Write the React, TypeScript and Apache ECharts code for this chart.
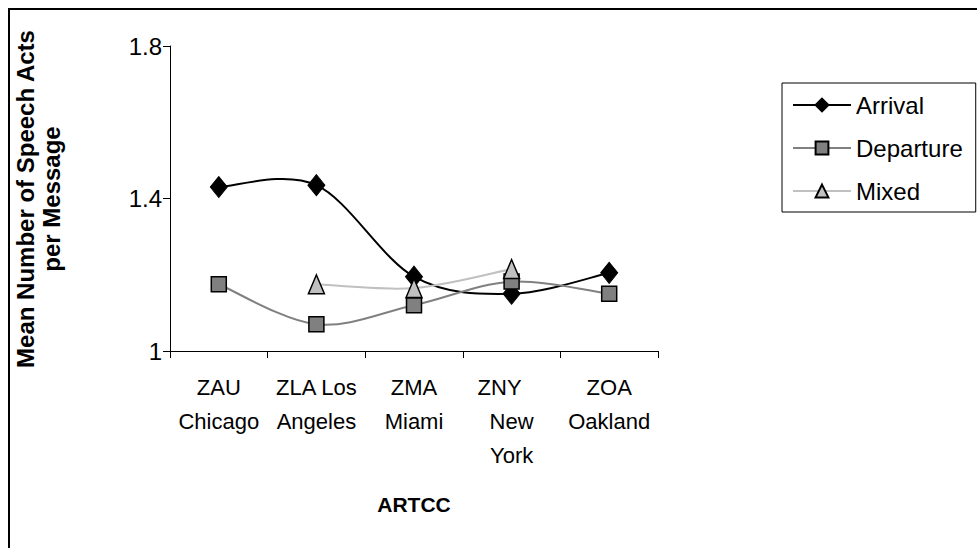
import React, { useEffect, useRef } from "react";
import * as echarts from "echarts";

const categories = ["ZAU\nChicago", "ZLA Los\nAngeles", "ZMA\nMiami", "ZNY    \nNew\nYork", "ZOA\nOakland"];
const arrival = [1.43, 1.435, 1.195, 1.15, 1.205];
const departure = [1.175, 1.07, 1.12, 1.182, 1.15];
const mixed = [null, 1.175, 1.165, 1.215, null];
const seriesNames = ["Arrival", "Departure", "Mixed"];
const yTitleLine1 = "Mean Number of Speech Acts";
const yTitleLine2 = "per Message";
const xTitle = "ARTCC";

const FONT = "Liberation Sans, Arial, sans-serif";
const COLORS = ["#000000", "#808080", "#c0c0c0"];

function curveSeries(name: string, values: (number | null)[], color: string) {
  const pts = values
    .map((v, i) => (v == null ? null : [i, v]))
    .filter((p) => p != null) as number[][];
  return {
    name: name + " curve",
    type: "custom",
    silent: true,
    z: 1,
    data: pts,
    renderItem: (params: any, api: any) => {
      if (params.dataIndex !== 0) return null;
      // split into runs of consecutive non-null values
      const runs: number[][][] = [];
      let cur: number[][] = [];
      values.forEach((v, i) => {
        if (v == null) {
          if (cur.length) runs.push(cur);
          cur = [];
        } else {
          cur.push(api.coord([i, v]));
        }
      });
      if (cur.length) runs.push(cur);
      let d = "";
      runs.forEach((run) => {
        d += `M${run[0][0]},${run[0][1]}`;
        for (let k = 0; k < run.length - 1; k++) {
          const p0 = run[Math.max(k - 1, 0)];
          const p1 = run[k];
          const p2 = run[k + 1];
          const p3 = run[Math.min(k + 2, run.length - 1)];
          const c1x = p1[0] + (p2[0] - p0[0]) / 6;
          const c1y = p1[1] + (p2[1] - p0[1]) / 6;
          const c2x = p2[0] - (p3[0] - p1[0]) / 6;
          const c2y = p2[1] - (p3[1] - p1[1]) / 6;
          d += ` C${c1x},${c1y} ${c2x},${c2y} ${p2[0]},${p2[1]}`;
        }
      });
      return {
        type: "path",
        shape: { pathData: d },
        style: { fill: "none", stroke: color, lineWidth: 2 },
      };
    },
  };
}

export default function App() {
  const ref = useRef<HTMLDivElement>(null);
  useEffect(() => {
    if (!ref.current) return;
    const chart = echarts.init(ref.current, undefined, { renderer: "svg" });
    const valueSets = [arrival, departure, mixed];
    const symbols = ["diamond", "rect", "triangle"];
    const sizes: any[] = [[17, 21], 15, [16, 19]];
    chart.setOption({
      animation: false,
      backgroundColor: "#fff",
      textStyle: { fontFamily: FONT },
      grid: { left: 170, right: 319, top: 46, bottom: 197 },
      legend: {
        orient: "vertical",
        left: 782,
        top: 83,
        padding: [9, 13, 8, 10],
        itemGap: 17,
        itemWidth: 58,
        itemHeight: 16,
        borderColor: "#000",
        borderWidth: 1,
        textStyle: { fontSize: 24, color: "#000", fontFamily: FONT, lineHeight: 26 },
        data: seriesNames.map((n, i) => ({
          name: n,
          lineStyle: { color: COLORS[i], width: 2, opacity: 1 },
        })),
      },
      xAxis: {
        type: "category",
        data: categories,
        boundaryGap: true,
        axisLine: { lineStyle: { color: "#000", width: 1 } },
        axisTick: { show: true, length: 7, lineStyle: { color: "#000" } },
        axisLabel: {
          interval: 0,
          margin: 19,
          fontSize: 22,
          lineHeight: 34,
          color: "#000",
          fontFamily: FONT,
        },
        name: xTitle,
        nameLocation: "middle",
        nameGap: 143,
        nameTextStyle: { fontSize: 21, fontWeight: "bold", color: "#000", fontFamily: FONT },
      },
      yAxis: {
        type: "value",
        min: 1,
        max: 1.8,
        interval: 0.4,
        splitLine: { show: false },
        axisLine: { show: true, lineStyle: { color: "#000", width: 1 } },
        axisTick: { show: true, length: 7, lineStyle: { color: "#000" } },
        axisLabel: { fontSize: 24, color: "#000", margin: 8, fontFamily: FONT },
      },
      graphic: [
        {
          type: "rect",
          shape: { x: 9, y: 9, width: 1200, height: 1000 },
          style: { fill: "none", stroke: "#000", lineWidth: 2 },
          silent: true,
        },
        {
          type: "text",
          x: 25,
          y: 199,
          rotation: Math.PI / 2,
          style: {
            text: yTitleLine1,
            fontSize: 24,
            fontWeight: "bold",
            fill: "#000",
            fontFamily: FONT,
            align: "center",
            verticalAlign: "middle",
          },
        },
        {
          type: "text",
          x: 51,
          y: 199,
          rotation: Math.PI / 2,
          style: {
            text: yTitleLine2,
            fontSize: 24,
            fontWeight: "bold",
            fill: "#000",
            fontFamily: FONT,
            align: "center",
            verticalAlign: "middle",
          },
        },
      ],
      series: [
        ...seriesNames.map((n, i) => curveSeries(n, valueSets[i], COLORS[i])),
        ...seriesNames.map((n, i) => ({
          name: n,
          type: "line",
          data: valueSets[i],
          z: 3,
          connectNulls: false,
          symbol: symbols[i],
          symbolSize: sizes[i],
          lineStyle: { color: COLORS[i], width: 2, opacity: 0 },
          itemStyle: { color: COLORS[i], borderColor: "#000", borderWidth: i === 0 ? 1 : 1.5 },
        })),
      ],
    });
    return () => chart.dispose();
  }, []);
  return (
    <div
      ref={ref}
      style={{ position: "absolute", left: 0, top: 0, width: 977, height: 548 }}
    />
  );
}
